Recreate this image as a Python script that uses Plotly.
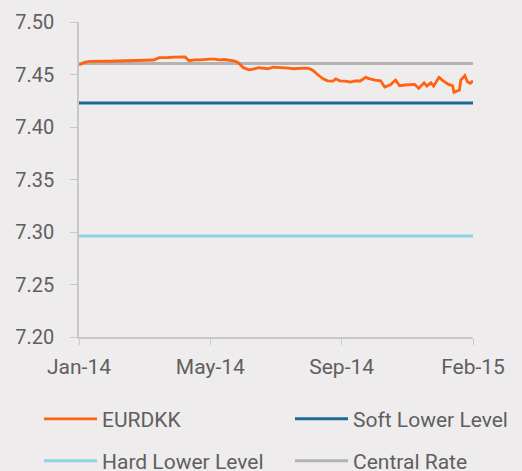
import plotly.graph_objects as go

# trading-day index and EURDKK values
days = [0, 4, 8, 11, 15, 19, 22, 26, 30, 33, 37, 41, 44, 48, 52, 55, 59, 63, 66, 70,
        74, 78, 81, 85, 89, 92, 96, 100, 103, 107, 111, 114, 117, 121, 125, 128, 132,
        136, 139, 143, 147, 150, 154, 158, 161, 165, 169, 172, 176, 180, 183, 187, 189,
        192, 196, 200, 203, 207, 211, 214, 218, 222, 225, 229, 233, 236, 240, 244, 247,
        250, 254, 256, 259, 261, 265, 268, 272, 275, 276, 280, 281, 284, 286, 288, 290]
eurdkk = [7.4590, 7.4615, 7.4625, 7.4627, 7.4625, 7.4627, 7.4626, 7.4627, 7.4626, 7.4628,
          7.4627, 7.4629, 7.4630, 7.4630, 7.4633, 7.4638, 7.4660, 7.4665, 7.4662, 7.4666,
          7.4668, 7.4667, 7.4632, 7.4640, 7.4640, 7.4645, 7.4647, 7.4647, 7.4640, 7.4643,
          7.4635, 7.4630, 7.4615, 7.4565, 7.4545, 7.4550, 7.4566, 7.4558, 7.4555, 7.4570,
          7.4568, 7.4567, 7.4560, 7.4555, 7.4560, 7.4560, 7.4558, 7.4540, 7.4495, 7.4457,
          7.4440, 7.4437, 7.4459, 7.4440, 7.4437, 7.4428, 7.4440, 7.4438, 7.4473, 7.4458,
          7.4447, 7.4440, 7.4380, 7.4400, 7.4447, 7.4393, 7.4400, 7.4405, 7.4406, 7.4368,
          7.4421, 7.4390, 7.4421, 7.4390, 7.4473, 7.4440, 7.4406, 7.4393, 7.4330, 7.4352,
          7.4447, 7.4490, 7.4428, 7.4416, 7.4440]
central_rate = 7.46038
soft_lower = 7.4228
hard_lower = 7.2962

tick_days = [0, 96.67, 193.33, 290]
tick_labels = ["Jan-14", "May-14", "Sep-14", "Feb-15"]
y_ticks = [7.20, 7.25, 7.30, 7.35, 7.40, 7.45, 7.50]

FONT = "Roboto"
TXT = "#5f5f5f"
BG = "#eeeced"

fig = go.Figure()
span = [days[0], days[-1]]
fig.add_trace(go.Scatter(x=span, y=[central_rate] * 2, mode="lines", name="Central Rate",
                         line=dict(color="#b3b3b3", width=3), legend="legend4"))
fig.add_trace(go.Scatter(x=span, y=[soft_lower] * 2, mode="lines", name="Soft Lower Level",
                         line=dict(color="#1b6a98", width=3), legend="legend2"))
fig.add_trace(go.Scatter(x=span, y=[hard_lower] * 2, mode="lines", name="Hard Lower Level",
                         line=dict(color="#8fd4e6", width=3), legend="legend3"))
fig.add_trace(go.Scatter(x=days, y=eurdkk, mode="lines", name="EURDKK",
                         line=dict(color="#ff6210", width=2.8), legend="legend"))

leg_common = dict(orientation="h", xanchor="left", yanchor="middle",
                  xref="container", yref="container",
                  font=dict(family=FONT, size=21, color=TXT), bgcolor="rgba(0,0,0,0)",
                  itemwidth=53)
col1, col2 = 0.0747, 0.5556
row1, row2 = 0.110, 0.021
fig.update_layout(
    width=522, height=471,
    paper_bgcolor=BG, plot_bgcolor=BG,
    margin=dict(l=79, r=49, t=22, b=134, autoexpand=False),
    font=dict(family=FONT, size=21, color=TXT),
    showlegend=True,
    legend=dict(**leg_common, x=col1, y=row1),
    legend2=dict(**leg_common, x=col2, y=row1),
    legend3=dict(**leg_common, x=col1, y=row2),
    legend4=dict(**leg_common, x=col2, y=row2),
    xaxis=dict(range=span, tickvals=tick_days, ticktext=tick_labels,
               showgrid=False, zeroline=False, showline=True, linecolor="#c8c8c8",
               linewidth=1.5, ticks="outside", ticklen=6, tickcolor="#c8c8c8",
               ticklabelstandoff=4,
               tickfont=dict(family=FONT, size=21, color=TXT)),
    yaxis=dict(range=[7.20, 7.50], tickvals=y_ticks, tickformat=".2f",
               showgrid=False, zeroline=False, showline=True, linecolor="#c8c8c8",
               linewidth=1.5, ticks="outside", ticklen=7, tickcolor="#c8c8c8",
               ticklabelstandoff=12,
               tickfont=dict(family=FONT, size=20, color=TXT)),
)
fig.write_html("out.html", config={"displayModeBar": False},
               post_script="document.body.style.margin='0';")
